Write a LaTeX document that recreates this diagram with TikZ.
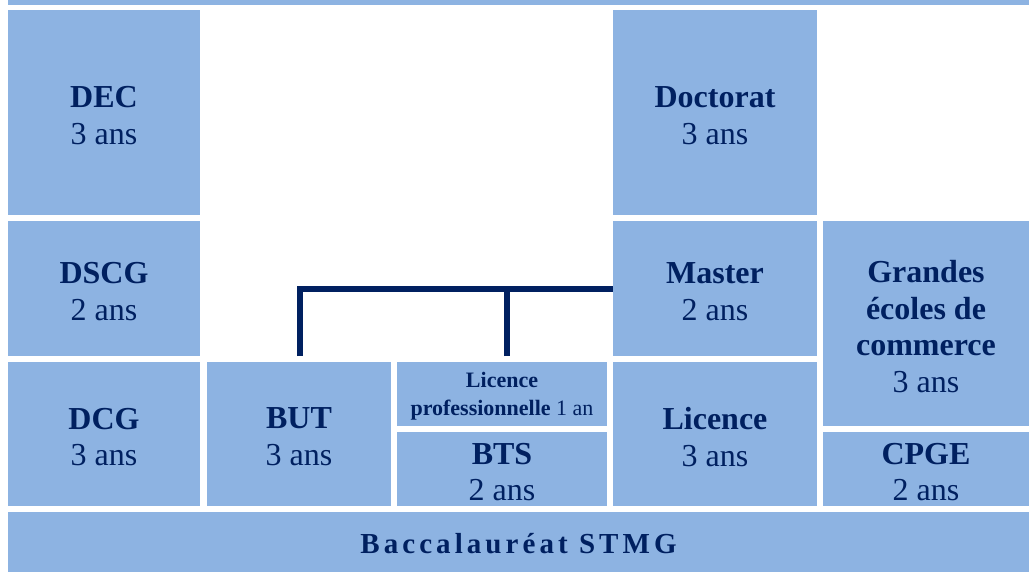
\documentclass[tikz,border=0pt]{standalone}
\usepackage{fontspec}
\setmainfont{Liberation Serif}
\usetikzlibrary{calc}
\definecolor{boxblue}{RGB}{141,179,226}
\definecolor{navy}{RGB}{0,32,96}
\begin{document}
\begin{tikzpicture}[x=1pt,y=-1pt,
  box/.style={fill=boxblue, draw=none, inner sep=0pt},
  txt/.style={inner sep=0pt, align=center, text=navy,
    font=\fontsize{32}{36.7}\selectfont},
  small/.style={font=\fontsize{22}{27.5}\selectfont},
  link/.style={draw=navy, line width=6pt, line join=miter, line cap=butt}]
\useasboundingbox[fill=white] (0,0) rectangle (1029,572);
\node[box, minimum width=1021pt, minimum height=5pt] (topbar) at (518.5,2.5) {};
\node[box, minimum width=192pt, minimum height=205pt] (DEC) at (104,112.5) {};
\node[box, minimum width=192pt, minimum height=135pt] (DSCG) at (104,288.5) {};
\node[box, minimum width=192pt, minimum height=144pt] (DCG) at (104,434) {};
\node[box, minimum width=184pt, minimum height=144pt] (BUT) at (299,434) {};
\node[box, minimum width=210pt, minimum height=64pt] (LP) at (502,394) {};
\node[box, minimum width=210pt, minimum height=74pt] (BTS) at (502,469) {};
\node[box, minimum width=204pt, minimum height=205pt] (Doc) at (715,112.5) {};
\node[box, minimum width=204pt, minimum height=135pt] (Master) at (715,288.5) {};
\node[box, minimum width=204pt, minimum height=144pt] (Lic) at (715,434) {};
\node[box, minimum width=206pt, minimum height=205pt] (GE) at (926,323.5) {};
\node[box, minimum width=206pt, minimum height=74pt] (CPGE) at (926,469) {};
\node[box, minimum width=1021pt, minimum height=60pt] (Bac) at (518.5,542) {};
\node[txt] (DECt) at ($(DEC)+(0,3)$) {\textbf{DEC}\\3 ans};
\node[txt] (DSCGt) at ($(DSCG)+(0,3)$) {\textbf{DSCG}\\2 ans};
\node[txt] (DCGt) at ($(DCG)+(0,3)$) {\textbf{DCG}\\3 ans};
\node[txt] (BUTt) at ($(BUT)+(0,3)$) {\textbf{BUT}\\3 ans};
\node[txt, small] (LPt) at ($(LP)+(0,2)$) {\textbf{Licence}\\\textbf{professionnelle} 1 an};
\node[txt] (BTSt) at ($(BTS)+(0,3)$) {\textbf{BTS}\\2 ans};
\node[txt] (Doct) at ($(Doc)+(0,3)$) {\textbf{Doctorat}\\3 ans};
\node[txt] (Mastert) at ($(Master)+(0,3)$) {\textbf{Master}\\2 ans};
\node[txt] (Lict) at ($(Lic)+(0,3)$) {\textbf{Licence}\\3 ans};
\node[txt] (GEt) at ($(GE)+(0,3)$) {\textbf{Grandes}\\\textbf{écoles de}\\\textbf{commerce}\\3 ans};
\node[txt] (CPGEt) at ($(CPGE)+(0,3)$) {\textbf{CPGE}\\2 ans};
\node[txt, font=\fontsize{29}{32}\selectfont\bfseries\addfontfeatures{LetterSpace=14}] (Bact) at ($(Bac)+(0,2)$) {Baccalauréat STMG};
\coordinate (butup) at (300,356);
\coordinate (lpup) at (507,356);
\coordinate (lpjoin) at (507,289);
\draw[link] (butup) |- (Master.west |- lpjoin);
\draw[link] (lpup) -- (lpjoin);
\end{tikzpicture}
\end{document}
